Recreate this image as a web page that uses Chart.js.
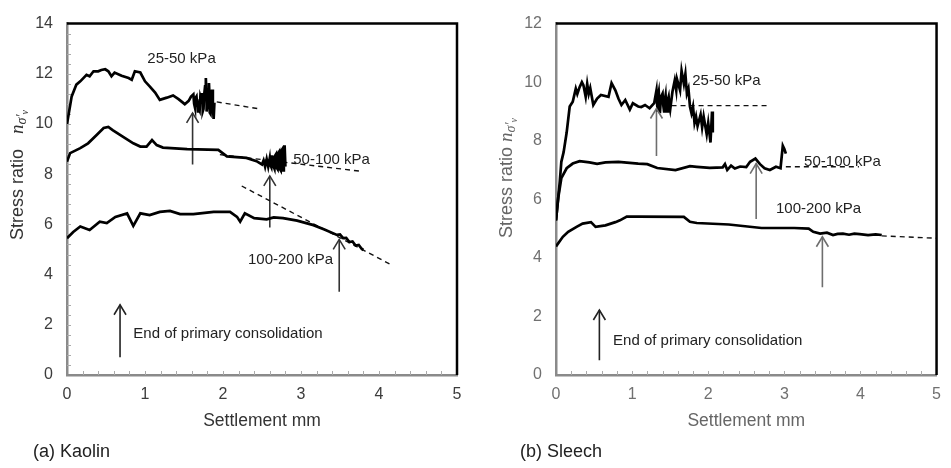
<!DOCTYPE html>
<html>
<head>
<meta charset="utf-8">
<script src="https://cdn.jsdelivr.net/npm/chart.js@4.4.1/dist/chart.umd.min.js"></script>
<style>
body { margin: 0; background: #fff; width: 951px; height: 468px; position: relative; overflow: hidden; font-family: 'Liberation Sans', Arial, sans-serif; }
#kaolinChart { position: absolute; left: 0; top: 0; }
#sleechChart { position: absolute; left: 475px; top: 0; }
.caption { position: absolute; top: 441px; font-size: 18px; color: #222; }
</style>
</head>
<body>
<canvas id="kaolinChart" width="475" height="468"></canvas>
<canvas id="sleechChart" width="476" height="468"></canvas>
<div class="caption" style="left:33px">(a) Kaolin</div>
<div class="caption" style="left:520px">(b) Sleech</div>
<script>
// settlement (mm), stress ratio
var kaolin_25_50 = [[0,10.0],[0.06,11.1],[0.12,11.57],[0.17,11.7],[0.21,11.83],[0.25,11.96],[0.29,11.9],[0.34,12.1],[0.4,12.1],[0.44,12.15],[0.49,12.18],[0.53,12.1],[0.57,11.9],[0.61,12.05],[0.7,11.92],[0.79,11.83],[0.83,11.76],[0.87,12.1],[0.94,12.05],[1.0,11.7],[1.06,11.5],[1.13,11.25],[1.19,10.96],[1.28,11.05],[1.36,11.14],[1.43,10.99],[1.51,10.79],[1.56,10.92],[1.59,11.09],[1.62,11.18],[1.63,10.8],[1.64,10.66],[1.65,11.05],[1.66,11.1],[1.67,10.7],[1.67,10.98],[1.68,10.5],[1.69,10.6],[1.70,10.53],[1.71,11.1],[1.72,11.0],[1.73,11.24],[1.74,10.8],[1.74,10.5],[1.75,10.6],[1.76,11.2],[1.77,11.5],[1.78,11.83],[1.79,11.0],[1.79,10.5],[1.80,10.73],[1.81,11.3],[1.82,11.63],[1.83,10.9],[1.83,10.45],[1.84,10.4],[1.85,11.0],[1.86,11.37],[1.87,10.7],[1.88,10.2],[1.89,10.85]];
var kaolin_50_100 = [[0,8.5],[0.04,8.84],[0.17,9.04],[0.27,9.23],[0.38,9.56],[0.47,9.84],[0.53,9.88],[0.59,9.75],[0.72,9.49],[0.85,9.23],[0.94,9.1],[1.02,9.1],[1.09,9.36],[1.15,9.16],[1.23,9.06],[1.54,9.0],[1.94,8.97],[2.05,8.71],[2.3,8.65],[2.43,8.52],[2.5,8.39],[2.52,8.55],[2.54,8.3],[2.56,8.6],[2.58,8.3],[2.6,8.65],[2.61,8.35],[2.62,8.28],[2.63,8.7],[2.64,8.75],[2.65,8.3],[2.66,8.22],[2.67,8.75],[2.68,8.8],[2.69,8.25],[2.7,8.2],[2.71,8.85],[2.72,8.9],[2.73,8.2],[2.74,8.15],[2.75,8.95],[2.76,9.0],[2.77,8.15],[2.78,8.6],[2.79,9.15],[2.8,8.3]];
var kaolin_100_200 = [[0,5.45],[0.08,5.7],[0.17,5.92],[0.29,5.78],[0.42,6.11],[0.51,6.05],[0.62,6.3],[0.77,6.44],[0.85,5.94],[0.94,6.44],[1.06,6.37],[1.19,6.5],[1.32,6.54],[1.45,6.41],[1.62,6.41],[1.88,6.5],[2.09,6.5],[2.18,6.3],[2.22,6.11],[2.28,6.44],[2.4,6.25],[2.56,6.2],[2.65,6.28],[2.77,6.25],[2.95,6.15],[3.16,5.97],[3.3,5.8],[3.46,5.58],[3.5,5.6],[3.54,5.45],[3.58,5.46],[3.62,5.3],[3.66,5.32],[3.7,5.16],[3.74,5.18],[3.78,5.02],[3.8,4.98]];
var kaolin_trend_25_50 = [[1.92,10.88],[2.47,10.6]];
var kaolin_trend_50_100 = [[1.96,8.78],[3.76,8.12]];
var kaolin_trend_100_200 = [[2.24,7.53],[4.17,4.37]];
var kaolin_arrows = [[[1.61,8.39],[1.61,10.44]],[[2.6,5.88],[2.6,7.93]],[[3.49,3.32],[3.49,5.4]],[[0.68,0.71],[0.68,2.8]]];

var sleech_25_50 = [[0,5.28],[0.05,6.61],[0.07,7.28],[0.1,7.61],[0.14,8.28],[0.18,9.17],[0.22,9.33],[0.26,9.78],[0.28,9.6],[0.31,9.83],[0.34,10.0],[0.36,9.9],[0.39,9.5],[0.41,9.94],[0.43,9.6],[0.45,9.8],[0.49,9.22],[0.54,9.44],[0.59,9.56],[0.69,9.5],[0.73,9.97],[0.78,9.72],[0.82,9.44],[0.86,9.22],[0.91,9.39],[0.97,9.06],[1.01,9.28],[1.08,9.17],[1.12,9.15],[1.17,9.22],[1.23,9.11],[1.29,9.28],[1.32,9.72],[1.33,9.2],[1.335,9.0],[1.34,9.5],[1.35,9.67],[1.36,9.2],[1.365,8.94],[1.38,9.5],[1.4,9.61],[1.41,9.2],[1.42,9.0],[1.43,9.4],[1.44,9.56],[1.45,9.1],[1.46,9.0],[1.47,9.4],[1.48,9.5],[1.49,9.2],[1.5,9.06],[1.53,9.67],[1.56,10.06],[1.58,9.72],[1.59,10.1],[1.63,9.72],[1.65,10.39],[1.68,9.94],[1.7,10.28],[1.72,9.61],[1.74,9.78],[1.76,9.17],[1.78,8.94],[1.8,9.17],[1.82,8.61],[1.84,8.83],[1.86,8.5],[1.9,8.89],[1.92,8.46],[1.94,8.83],[1.98,8.22],[2.0,8.61],[2.03,7.94],[2.05,9.0],[2.06,8.28]];
var sleech_50_100 = [[0,5.28],[0.03,6.06],[0.07,6.72],[0.14,7.06],[0.22,7.22],[0.31,7.3],[0.44,7.26],[0.54,7.21],[0.65,7.26],[0.82,7.28],[1.08,7.22],[1.2,7.2],[1.33,7.07],[1.57,7.0],[1.76,7.13],[1.85,7.11],[2.02,7.07],[2.19,7.09],[2.22,7.2],[2.25,7.0],[2.3,7.15],[2.35,7.05],[2.42,7.12],[2.5,7.1],[2.55,7.28],[2.62,7.39],[2.68,7.2],[2.74,7.06],[2.81,7.0],[2.89,7.11],[2.95,7.06],[2.98,7.83],[3.0,7.72],[3.02,7.56]];
var sleech_100_200 = [[0,4.39],[0.09,4.72],[0.16,4.89],[0.27,5.06],[0.35,5.17],[0.46,5.22],[0.52,5.06],[0.65,5.11],[0.78,5.22],[0.84,5.28],[0.93,5.41],[1.08,5.41],[1.68,5.4],[1.76,5.23],[1.85,5.19],[2.27,5.14],[2.7,5.02],[3.13,5.02],[3.32,5.0],[3.38,4.89],[3.47,4.83],[3.56,4.86],[3.64,4.78],[3.7,4.82],[3.77,4.83],[3.85,4.79],[3.92,4.83],[3.99,4.81],[4.1,4.78],[4.2,4.8],[4.28,4.78]];
var sleech_trend_25_50 = [[1.4,9.2],[2.81,9.2]];
var sleech_trend_50_100 = [[3.02,7.11],[3.98,7.11]];
var sleech_trend_100_200 = [[4.28,4.75],[5.0,4.67]];
var sleech_arrows = [[[1.32,7.48],[1.32,9.1]],[[2.63,5.33],[2.63,7.22]],[[3.5,3.0],[3.5,4.72]],[[0.57,0.5],[0.57,2.22]]];

var xTicks = [0, 1, 2, 3, 4, 5];
var kaolinYTicks = [0, 2, 4, 6, 8, 10, 12, 14];
var sleechYTicks = [0, 2, 4, 6, 8, 10, 12];
var loadLabels = ['25-50 kPa', '50-100 kPa', '100-200 kPa', 'End of primary consolidation'];

var FONT = "'Liberation Sans', Arial, sans-serif";

function xy(pairs) {
    return pairs.map(function (p) { return { x: p[0], y: p[1] }; });
}

// labels are placed in data units (left edge, middle)
function buildChart(id, o) {
    var ds = [];
    o.curves.forEach(function (c) {
        ds.push({ data: xy(c), borderColor: '#000', borderWidth: 2.7 });
    });
    o.trends.forEach(function (t) {
        ds.push({ data: xy(t), borderColor: '#111', borderWidth: 1.4, borderDash: [5, 4] });
    });
    o.arrows.forEach(function (a, i) {
        ds.push({ data: xy(a), borderColor: o.arrowColors[i], borderWidth: 1.6, arrow: true });
    });

    var decor = {
        id: 'decor',
        beforeDatasetsDraw: function (chart) {
            var c = chart.ctx, a = chart.chartArea, sx = chart.scales.x, sy = chart.scales.y;
            c.save();
            c.strokeStyle = '#aaa';
            c.lineWidth = 1;
            for (var v = 0.2; v < 5; v += 0.2) {
                var px = Math.round(sx.getPixelForValue(v)) + 0.5;
                c.beginPath(); c.moveTo(px, a.bottom); c.lineTo(px, a.bottom - 4); c.stroke();
            }
            if (o.yMinor) {
                for (var w = o.yMinor; w < o.yMax; w += o.yMinor) {
                    var py = Math.round(sy.getPixelForValue(w)) + 0.5;
                    c.beginPath(); c.moveTo(a.left, py); c.lineTo(a.left + 4, py); c.stroke();
                }
            }
            c.restore();
        },
        afterDraw: function (chart) {
            var c = chart.ctx, a = chart.chartArea, sx = chart.scales.x, sy = chart.scales.y;
            c.save();
            // top and right frame
            c.strokeStyle = '#000';
            c.lineWidth = 2.5;
            c.beginPath();
            c.moveTo(a.left, a.top); c.lineTo(a.right, a.top); c.lineTo(a.right, a.bottom);
            c.stroke();

            // arrow heads
            chart.data.datasets.forEach(function (d, i) {
                if (!d.arrow) return;
                var pts = chart.getDatasetMeta(i).data;
                var tip = pts[pts.length - 1];
                c.strokeStyle = d.borderColor;
                c.lineWidth = 1.6;
                c.beginPath();
                c.moveTo(tip.x - 6, tip.y + 10); c.lineTo(tip.x, tip.y); c.lineTo(tip.x + 6, tip.y + 10);
                c.stroke();
            });

            // text labels
            c.font = '15px ' + FONT;
            c.fillStyle = '#222';
            c.textBaseline = 'middle';
            c.textAlign = 'left';
            o.labels.forEach(function (l) {
                c.fillText(l[0], sx.getPixelForValue(l[1]), sy.getPixelForValue(l[2]));
            });

            // x title
            c.font = '17.5px ' + FONT;
            c.fillStyle = o.titleColor;
            c.textAlign = 'center';
            c.fillText('Settlement mm', (a.left + a.right) / 2, 421);

            // y title with n_{sigma'v}
            c.translate(o.yTitleX, o.yTitleY);
            c.rotate(-Math.PI / 2);
            c.textAlign = 'left';
            var f1 = '18px ' + FONT, f2 = "italic 19px 'Liberation Serif', serif", f3 = "italic 14px 'Liberation Serif', serif", f4 = "italic 10px 'Liberation Serif', serif";
            var t1 = 'Stress ratio' + o.titleGap;
            c.font = f1; var w1 = c.measureText(t1).width;
            c.font = f2; var w2 = c.measureText('n').width;
            c.font = f3; var w3 = c.measureText('\u03c3\u2032').width;
            c.font = f4; var w4 = c.measureText('v').width;
            var s = -(w1 + w2 + w3 + w4) / 2;
            c.font = f1; c.fillText(t1, s, 0);
            c.font = f2; c.fillText('n', s + w1, 0);
            c.font = f3; c.fillText('\u03c3\u2032', s + w1 + w2, 4);
            c.font = f4; c.fillText('v', s + w1 + w2 + w3, 7);
            c.restore();
        }
    };

    return new Chart(document.getElementById(id), {
        type: 'scatter',
        data: { datasets: ds },
        options: {
            responsive: false,
            animation: false,
            layout: { padding: { top: 15, right: o.padRight, left: 0, bottom: 0 } },
            elements: { point: { radius: 0, hoverRadius: 0 }, line: { tension: 0, fill: false } },
            datasets: { scatter: { showLine: true } },
            plugins: { legend: { display: false }, tooltip: { enabled: false } },
            scales: {
                x: {
                    type: 'linear', min: 0, max: 5,
                    afterBuildTicks: function (s) { s.ticks = xTicks.map(function (v) { return { value: v }; }); },
                    ticks: { color: o.tickColor, font: { family: FONT, size: 16 }, padding: 10 },
                    grid: { drawOnChartArea: false, drawTicks: false },
                    border: { color: '#8a8a8a', width: 2.5 },
                    afterFit: function (s) { s.height = 93; }
                },
                y: {
                    type: 'linear', min: 0, max: o.yMax,
                    afterBuildTicks: function (s) { s.ticks = o.yTicks.map(function (v) { return { value: v }; }); },
                    ticks: { color: o.tickColor, font: { family: FONT, size: 16 }, padding: 14 },
                    grid: { drawOnChartArea: false, drawTicks: false },
                    border: { color: '#8a8a8a', width: 2.5 },
                    afterFit: function (s) { s.width = o.plotLeft; }
                }
            }
        },
        plugins: [decor]
    });
}

buildChart('kaolinChart', {
    curves: [kaolin_25_50, kaolin_50_100, kaolin_100_200],
    trends: [kaolin_trend_25_50, kaolin_trend_50_100, kaolin_trend_100_200],
    arrows: kaolin_arrows,
    arrowColors: ['#333', '#333', '#333', '#222'],
    labels: [[loadLabels[0], 1.03, 12.6], [loadLabels[1], 2.9, 8.58], [loadLabels[2], 2.32, 4.6], [loadLabels[3], 0.85, 1.63]],
    yMax: 14, yTicks: kaolinYTicks, yMinor: 0.4,
    plotLeft: 67, padRight: 18,
    tickColor: '#3c3c3c', titleColor: '#333',
    yTitleX: 18, yTitleY: 175, titleGap: '   '
});

buildChart('sleechChart', {
    curves: [sleech_25_50, sleech_50_100, sleech_100_200],
    trends: [sleech_trend_25_50, sleech_trend_50_100, sleech_trend_100_200],
    arrows: sleech_arrows,
    arrowColors: ['#6e6e6e', '#6e6e6e', '#6e6e6e', '#222'],
    labels: [[loadLabels[0], 1.79, 10.06], [loadLabels[1], 3.26, 7.28], [loadLabels[2], 2.89, 5.67], [loadLabels[3], 0.75, 1.17]],
    yMax: 12, yTicks: sleechYTicks, yMinor: 0,
    plotLeft: 81, padRight: 5,
    tickColor: '#707070', titleColor: '#666',
    yTitleX: 32, yTitleY: 178, titleGap: ' '
});
</script>
</body>
</html>
